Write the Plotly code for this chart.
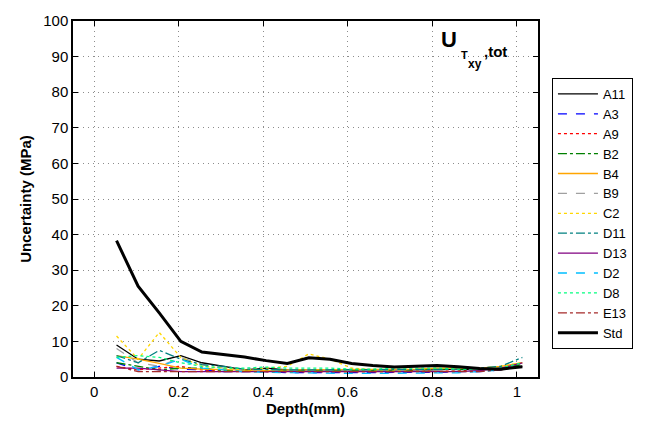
import plotly.graph_objects as go

depth = [0.053, 0.104, 0.154, 0.205, 0.255, 0.306, 0.356, 0.407, 0.457, 0.508,
         0.558, 0.609, 0.659, 0.710, 0.760, 0.811, 0.861, 0.912, 0.962, 1.013]

names = ["A11", "A3", "A9", "B2", "B4", "B9", "C2", "D11", "D13", "D2", "D8", "E13", "Std"]

A11 = [9.0, 5.0, 4.5, 6.0, 4.0, 3.0, 2.0, 2.5, 2.0, 2.0, 2.0, 1.8, 1.8, 1.8, 2.0, 2.0, 2.2, 2.0, 2.5, 3.0]
A3  = [4.0, 2.0, 3.0, 2.2, 2.0, 1.5, 1.5, 1.5, 1.2, 1.2, 1.3, 1.2, 1.2, 1.2, 1.3, 1.3, 1.5, 1.5, 2.0, 3.5]
A9  = [3.0, 2.0, 2.5, 3.0, 2.0, 1.8, 1.5, 1.5, 1.5, 1.5, 1.5, 1.5, 1.6, 1.5, 1.8, 1.5, 1.8, 2.0, 2.2, 3.0]
B2  = [4.0, 3.0, 2.0, 2.5, 2.5, 1.8, 1.8, 2.0, 1.8, 1.8, 1.8, 2.0, 2.0, 2.0, 2.0, 2.2, 2.0, 2.0, 2.5, 3.5]
B4  = [6.0, 5.0, 3.8, 2.5, 2.2, 2.0, 2.0, 1.8, 2.0, 2.0, 2.0, 2.0, 2.0, 2.2, 2.2, 2.5, 2.5, 2.5, 3.0, 4.0]
B9  = [8.0, 4.0, 3.0, 5.5, 3.5, 2.5, 2.0, 2.0, 1.8, 1.8, 1.8, 1.8, 1.8, 1.8, 2.0, 2.0, 2.0, 2.0, 2.5, 3.5]
C2  = [11.5, 5.0, 12.5, 5.5, 3.0, 2.5, 2.0, 2.5, 3.0, 6.5, 5.0, 2.5, 2.0, 2.0, 2.2, 2.5, 2.5, 2.5, 3.0, 4.0]
D11 = [6.0, 4.0, 7.5, 5.0, 3.5, 3.0, 2.2, 2.0, 2.0, 2.0, 2.0, 2.0, 2.0, 2.0, 2.0, 2.2, 2.2, 2.5, 3.0, 5.5]
D13 = [2.5, 2.5, 2.0, 1.5, 1.5, 1.5, 1.5, 1.5, 1.5, 1.5, 1.5, 1.5, 1.5, 1.5, 1.5, 1.5, 1.5, 1.8, 2.5, 4.0]
D2  = [5.5, 2.0, 3.0, 5.0, 2.5, 2.0, 1.5, 1.3, 1.2, 1.0, 1.0, 1.0, 1.0, 1.0, 1.0, 1.2, 1.2, 1.5, 2.0, 3.0]
D8  = [5.5, 6.0, 5.5, 4.0, 3.0, 2.5, 2.5, 2.8, 2.5, 2.5, 2.5, 2.2, 2.2, 2.5, 2.5, 2.5, 2.2, 2.2, 2.5, 4.0]
E13 = [3.0, 1.5, 1.5, 1.5, 1.5, 1.5, 1.5, 1.5, 1.5, 1.5, 1.5, 1.5, 1.5, 1.5, 1.5, 1.5, 1.5, 1.5, 2.0, 3.0]
Std = [38.3, 25.5, 18.0, 10.0, 7.0, 6.3, 5.6, 4.6, 3.8, 5.4, 5.0, 3.8, 3.2, 2.8, 3.0, 3.2, 2.9, 2.4, 2.2, 2.9]

series = [A11, A3, A9, B2, B4, B9, C2, D11, D13, D2, D8, E13, Std]
colors = ["black", "#0000ff", "#ff0000", "#008000", "#ffa500", "#a0a0a0", "#ffd700",
          "#008080", "#800080", "#00bfff", "#00ff7f", "#a52a2a", "black"]
dashes = ["solid", "dash", "dot", "dashdot", "solid", "dash", "dot", "dashdot",
          "solid", "dash", "dot", "dashdot", "solid"]
widths = [1.3] * 12 + [3]

FONT = "Liberation Sans, Arial"

fig = go.Figure()
for n, ys, c, d, w in zip(names, series, colors, dashes, widths):
    fig.add_trace(go.Scatter(x=depth, y=ys, mode="lines", name=n,
                             line=dict(color=c, dash=d, width=w)))

axis_common = dict(showline=True, linecolor="black", linewidth=1.5, mirror="ticks",
                   ticks="inside", ticklen=5, tickcolor="black",
                   showgrid=True, gridcolor="#8c8c8c", griddash="1px,4px", gridwidth=1,
                   zeroline=False, tickfont=dict(family=FONT, size=15, color="black"))

fig.update_xaxes(range=[-0.05, 1.05], tickvals=[0, 0.2, 0.4, 0.6, 0.8, 1],
                 ticktext=["0", "0.2", "0.4", "0.6", "0.8", "1"],
                 title=dict(text="<b>Depth(mm)</b>", standoff=2,
                            font=dict(family=FONT, size=15, color="black")),
                 **axis_common)
fig.update_yaxes(range=[0, 100], tickvals=list(range(0, 101, 10)),
                 title=dict(text="<b>Uncertainty (MPa)</b>", standoff=8,
                            font=dict(family=FONT, size=15, color="black")),
                 **axis_common)

ann = dict(xref="paper", yref="paper", showarrow=False, xanchor="center", yanchor="middle")
fig.add_annotation(x=0.808, y=0.947, text="<b>U</b>",
                   font=dict(family=FONT, size=22, color="black"), **ann)
fig.add_annotation(x=0.841, y=0.905, text="<b>T</b>",
                   font=dict(family=FONT, size=11, color="black"), **ann)
fig.add_annotation(x=0.865, y=0.878, text="<b>xy</b>",
                   font=dict(family=FONT, size=12, color="black"), **ann)
fig.add_annotation(x=0.908, y=0.913, text="<b>,tot</b>",
                   font=dict(family=FONT, size=15, color="black"), **ann)

fig.update_layout(
    width=645, height=426,
    margin=dict(l=73, r=106, t=17, b=49),
    paper_bgcolor="white", plot_bgcolor="white",
    font=dict(family=FONT, color="black"),
    showlegend=True,
    legend=dict(x=1.03, y=0.84, xanchor="left", yanchor="top",
                bordercolor="black", borderwidth=1, bgcolor="white",
                font=dict(family=FONT, size=13, color="black"),
                tracegroupgap=0, itemwidth=40),
)

fig.write_html("out.html")
